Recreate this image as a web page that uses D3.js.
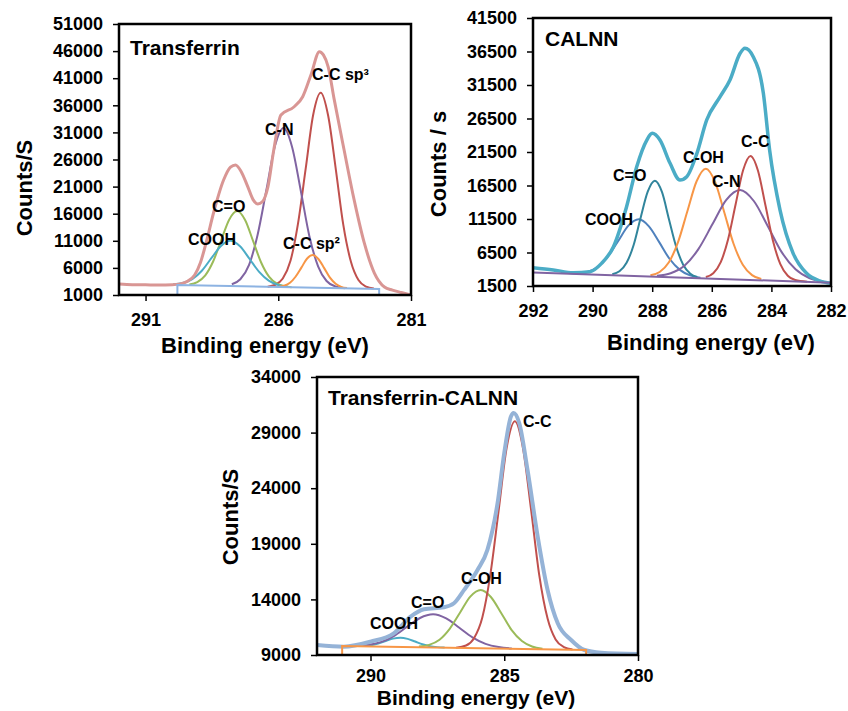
<!DOCTYPE html>
<html>
<head>
<meta charset="utf-8">
<script src="https://cdn.jsdelivr.net/npm/d3@7"></script>
<style>
  body { margin: 0; background: #fff; }
  text { font-family: "Liberation Sans", Arial, sans-serif; }
  .peak { font-family: "Liberation Sans", Arial, sans-serif; font-weight: bold; font-size: 16px; }
</style>
</head>
<body>
<div id="chart"></div>
<script>
// ---------- panel 1 : Transferrin ----------
var p1YTicks = [1000, 6000, 11000, 16000, 21000, 26000, 31000, 36000, 41000, 46000, 51000];
var p1XTicks = [291, 286, 281];
var p1Names = ["C-C sp³", "C-N", "C=O", "COOH", "C-C sp²"];
var p1Envelope = [[292.0,3030],[291.5,2900],[291.0,2870],[290.5,2830],[290.0,2880],[289.69,3050],[289.4,3600],
  [289.15,4700],[288.93,7000],[288.7,11000],[288.44,16130],[288.06,22220],[287.8,24600],[287.61,25000],
  [287.4,23800],[287.15,21000],[286.95,18600],[286.77,17800],[286.6,18200],[286.39,20920],[286.17,27750],
  [285.9,34200],[285.4,35740],[285.08,37590],[284.77,41590],[284.45,45890],[284.3,45300],[284.12,43100],
  [283.89,37000],[283.52,27750],[283.14,18500],[282.76,10600],[282.38,5050],[282.0,2470],[281.7,1900],
  [281.36,1450],[281.0,1000]];
var p1Base = [[289.8,1000],[289.8,2850],[282.2,2100],[282.2,1000]];
var p1CCsp3 = [[286.4,2540],[286.11,2887],[285.83,4039],[285.54,7302],[285.26,14091],[284.97,24208],[284.69,34116],[284.4,38318],
  [284.12,34060],[283.83,24095],[283.55,13922],[283.26,7076],[282.98,3757],[282.69,2549],[282.4,2190]];
var p1CN = [[287.75,2975],[287.43,3905],[287.1,6555],[286.78,12080],[286.45,20316],[286.13,28382],[285.8,31796],
  [285.48,28317],[285.15,20187],[284.83,11887],[284.5,6298],[284.18,3584],[283.85,2589],[283.5,2260]];
var p1CO = [[289.35,2962],[289.05,3387],[288.75,4625],[288.45,7223],[288.15,11101],[287.85,14899],[287.55,16499],
  [287.25,14840],[286.95,10982],[286.65,7044],[286.35,4388],[286.05,3090],[285.75,2605],[285.5,2440]];
var p1COOH = [[289.96,2961],[289.6,3200],[289.24,3927],[288.88,5472],[288.52,7790],[288.16,10059],[287.8,11004],
  [287.44,9988],[287.08,7647],[286.72,5258],[286.36,3642],[286.0,2843],[285.64,2534]];
var p1CCsp2 = [[285.99,2542],[285.78,2719],[285.56,3249],[285.35,4369],[285.13,6047],[284.92,7690],[284.7,8377],
  [284.49,7647],[284.27,5962],[284.06,4242],[283.84,3078],[283.63,2506],[283.41,2287]];

// ---------- panel 2 : CALNN ----------
var p2YTicks = [1500, 6500, 11500, 16500, 21500, 26500, 31500, 36500, 41500];
var p2XTicks = [292, 290, 288, 286, 284, 282];
var p2Names = ["COOH", "C=O", "C-OH", "C-N", "C-C"];
var p2Envelope = [[292.0,4230],[291.32,3890],[290.65,3490],[290.09,3640],[289.7,4880],[289.3,7370],[288.86,13340],
  [288.52,19310],[288.18,23290],[288.0,24290],[287.74,23290],[287.4,19810],[287.07,17320],[286.84,17820],
  [286.5,21300],[286.17,26280],[285.72,29750],[285.39,32250],[285.05,36230],[284.89,36980],[284.61,35730],
  [284.27,30260],[284.06,21800],[283.71,12840],[283.27,6380],[282.82,3390],[282.38,2250],[282.0,1900]];
var p2Base = [[292.0,3500],[282.0,2000]];
var p2COOH = [[290.52,3372],[290.18,3598],[289.83,4322],[289.49,5876],[289.14,8214],[288.8,10503],[288.45,11448],
  [288.11,10400],[287.76,8007],[287.42,5565],[287.07,3908],[286.73,3081],[286.38,2751]];
var p2CO = [[289.34,3260],[289.1,3694],[288.86,4968],[288.62,7647],[288.39,11652],[288.15,15572],[287.91,17220],
  [287.67,15500],[287.44,11509],[287.2,7434],[286.96,4683],[286.72,3337],[286.49,2833]];
var p2COH = [[288.06,3091],[287.75,3582],[287.44,5032],[287.13,8089],[286.82,12657],[286.51,17132],[286.2,19010],
  [285.89,17039],[285.58,12471],[285.27,7810],[284.96,4660],[284.65,3117],[284.34,2533]];
var p2CN = [[287.84,3024],[287.38,3394],[286.91,4546],[286.45,7009],[285.98,10706],[285.52,14327],[285.05,15828],
  [284.59,14188],[284.12,10427],[283.66,6590],[283.19,3988],[282.73,2697],[282.26,2187]];
var p2CC = [[286.2,2835],[285.95,3405],[285.7,5057],[285.45,8523],[285.2,13697],[284.95,18765],[284.7,20900],
  [284.45,18690],[284.2,13547],[283.95,8298],[283.7,4757],[283.45,3030],[283.2,2385],[282.8,2150]];

// ---------- panel 3 : Transferrin-CALNN ----------
var p3YTicks = [9000, 14000, 19000, 24000, 29000, 34000];
var p3XTicks = [290, 285, 280];
var p3Names = ["COOH", "C=O", "C-OH", "C-C"];
var p3Envelope = [[292.0,9900],[291.0,9750],[290.0,10200],[289.13,10950],[288.5,12450],[288.0,13110],
  [287.25,13290],[286.88,13650],[286.5,14850],[286.0,16650],[285.63,18450],[285.25,22660],[285.0,27160],
  [284.75,30450],[284.65,30760],[284.44,29860],[284.13,25650],[283.75,19650],[283.38,14850],[283.0,11850],
  [282.5,10350],[282.0,9450],[281.38,9210],[280.0,9090]];
var p3Base = [[291.06,9000],[291.06,9811],[281.94,9450],[281.94,9000]];
var p3COOH = [[290.53,9799],[290.26,9816],[289.98,9881],[289.71,10029],[289.43,10253],[289.16,10473],[288.88,10560],
  [288.61,10451],[288.33,10209],[288.06,9963],[287.78,9794],[287.51,9708],[287.23,9668]];
var p3CO = [[290.6,9826],[290.11,9905],[289.62,10158],[289.13,10704],[288.64,11524],[288.15,12329],[287.66,12660],
  [287.17,12290],[286.68,11447],[286.19,10587],[285.7,10003],[285.21,9710],[284.72,9593]];
var p3COH = [[288.19,9756],[287.81,9912],[287.42,10377],[287.04,11355],[286.65,12818],[286.27,14249],[285.88,14850],
  [285.5,14219],[285.11,12757],[284.73,11263],[284.34,10255],[283.96,9760],[283.57,9573]];
var p3CC = [[286.8,9660],[286.43,9855],[286.13,10514],[285.82,12372],[285.52,16234],[285.21,21985],[284.91,27620],[284.6,30010],
  [284.3,27595],[283.99,21937],[283.69,16161],[283.38,12275],[283.08,10393],[282.77,9710],[282.45,9500]];

var width = 848, height = 711;
var svg = d3.select("#chart").append("svg")
    .attr("width", width)
    .attr("height", height);

function drawPanel(cfg) {
    var x = d3.scaleLinear().domain(cfg.xDomain).range([cfg.left, cfg.right]);
    var y = d3.scaleLinear().domain(cfg.yDomain).range([cfg.bottom, cfg.top]);

    svg.append("clipPath").attr("id", "clip" + cfg.id)
        .append("rect")
        .attr("x", cfg.left).attr("y", cfg.top)
        .attr("width", cfg.right - cfg.left).attr("height", cfg.bottom - cfg.top);

    var smooth = d3.line()
        .x(function(d) { return x(d[0]); })
        .y(function(d) { return y(d[1]); })
        .curve(d3.curveMonotoneX);
    var straight = d3.line()
        .x(function(d) { return x(d[0]); })
        .y(function(d) { return y(d[1]); });

    var plot = svg.append("g").attr("clip-path", "url(#clip" + cfg.id + ")");

    cfg.peaks.forEach(function(p, i) {
        plot.append("path").datum(p)
            .attr("d", smooth)
            .attr("fill", "none")
            .attr("stroke", cfg.colors[i])
            .attr("stroke-width", 2);
    });
    plot.append("path").datum(cfg.envelope)
        .attr("d", smooth)
        .attr("fill", "none")
        .attr("stroke", cfg.envColor)
        .attr("stroke-width", cfg.envWidth);
    svg.append("path").datum(cfg.base)
        .attr("d", straight)
        .attr("fill", "none")
        .attr("stroke", cfg.baseColor)
        .attr("stroke-width", 2);

    // axes
    var yAxis = d3.axisLeft(y).tickValues(cfg.yTicks).tickSize(6).tickPadding(10).tickFormat(d3.format("d"));
    var xAxis = d3.axisBottom(x).tickValues(cfg.xTicks).tickSize(6).tickPadding(cfg.xPad).tickFormat(d3.format("d"));
    [svg.append("g").attr("transform", "translate(" + cfg.left + ",0)").call(yAxis),
     svg.append("g").attr("transform", "translate(0," + cfg.bottom + ")").call(xAxis)]
        .forEach(function(a) {
            a.select(".domain").remove();
            a.selectAll("line").attr("stroke", "#000").attr("stroke-width", 1.5);
            a.selectAll("text")
                .attr("font-family", "Liberation Sans, Arial, sans-serif")
                .attr("font-size", 18)
                .attr("font-weight", "bold")
                .attr("fill", "#000");
        });

    svg.append("rect")
        .attr("x", cfg.left).attr("y", cfg.top)
        .attr("width", cfg.right - cfg.left).attr("height", cfg.bottom - cfg.top)
        .attr("fill", "none")
        .attr("stroke", "#000")
        .attr("stroke-width", 2.5);

    // titles
    svg.append("text")
        .attr("x", cfg.titlePos[0]).attr("y", cfg.titlePos[1])
        .attr("font-size", 21).attr("font-weight", "bold")
        .text(cfg.title);
    svg.append("text")
        .attr("x", cfg.xTitlePos[0]).attr("y", cfg.xTitlePos[1])
        .attr("text-anchor", "middle")
        .attr("font-size", cfg.xTitleSize).attr("font-weight", "bold")
        .text("Binding energy (eV)");
    svg.append("text")
        .attr("transform", "translate(" + cfg.yTitlePos[0] + "," + cfg.yTitlePos[1] + ") rotate(-90)")
        .attr("text-anchor", "middle")
        .attr("font-size", 22).attr("font-weight", "bold")
        .text(cfg.yTitle);

    cfg.names.forEach(function(n, i) {
        svg.append("text")
            .attr("class", "peak")
            .attr("x", cfg.labelPos[i][0]).attr("y", cfg.labelPos[i][1])
            .text(n);
    });
}

drawPanel({
    id: 1, title: "Transferrin", yTitle: "Counts/S",
    left: 119, right: 411, top: 24, bottom: 295,
    xDomain: [292, 281], yDomain: [1000, 51000],
    yTicks: p1YTicks, xTicks: p1XTicks, xPad: 12,
    peaks: [p1CCsp3, p1CN, p1CO, p1COOH, p1CCsp2],
    colors: ["#c0504d", "#8064a2", "#9bbb59", "#4bacc6", "#f79646"],
    envelope: p1Envelope, envColor: "#d99694", envWidth: 3,
    base: p1Base, baseColor: "#8db3e2",
    names: p1Names,
    labelPos: [[312, 80], [265, 135], [212, 212], [188, 245], [283, 249]],
    titlePos: [130, 55], xTitlePos: [265, 353], xTitleSize: 22, yTitlePos: [32, 188]
});

drawPanel({
    id: 2, title: "CALNN", yTitle: "Counts / s",
    left: 533, right: 831, top: 18, bottom: 286,
    xDomain: [292, 282], yDomain: [1500, 41500],
    yTicks: p2YTicks, xTicks: p2XTicks, xPad: 12,
    peaks: [p2COOH, p2CO, p2COH, p2CN, p2CC],
    colors: ["#4f81bd", "#31859c", "#f79646", "#8064a2", "#c0504d"],
    envelope: p2Envelope, envColor: "#4bacc6", envWidth: 3.5,
    base: p2Base, baseColor: "#8064a2",
    names: p2Names,
    labelPos: [[585, 225], [613, 181], [683, 163], [712, 187], [741, 147]],
    titlePos: [545, 46], xTitlePos: [711, 350], xTitleSize: 22, yTitlePos: [446, 164]
});

drawPanel({
    id: 3, title: "Transferrin-CALNN", yTitle: "Counts/S",
    left: 317, right: 638, top: 377, bottom: 655,
    xDomain: [292, 280], yDomain: [9000, 34000],
    yTicks: p3YTicks, xTicks: p3XTicks, xPad: 8,
    peaks: [p3COOH, p3CO, p3COH, p3CC],
    colors: ["#4bacc6", "#8064a2", "#9bbb59", "#c0504d"],
    envelope: p3Envelope, envColor: "#95b3d7", envWidth: 4,
    base: p3Base, baseColor: "#f79646",
    names: p3Names,
    labelPos: [[370, 629], [411, 608], [461, 584], [523, 427]],
    titlePos: [328, 405], xTitlePos: [476, 705], xTitleSize: 21, yTitlePos: [238, 517]
});
</script>
</body>
</html>
